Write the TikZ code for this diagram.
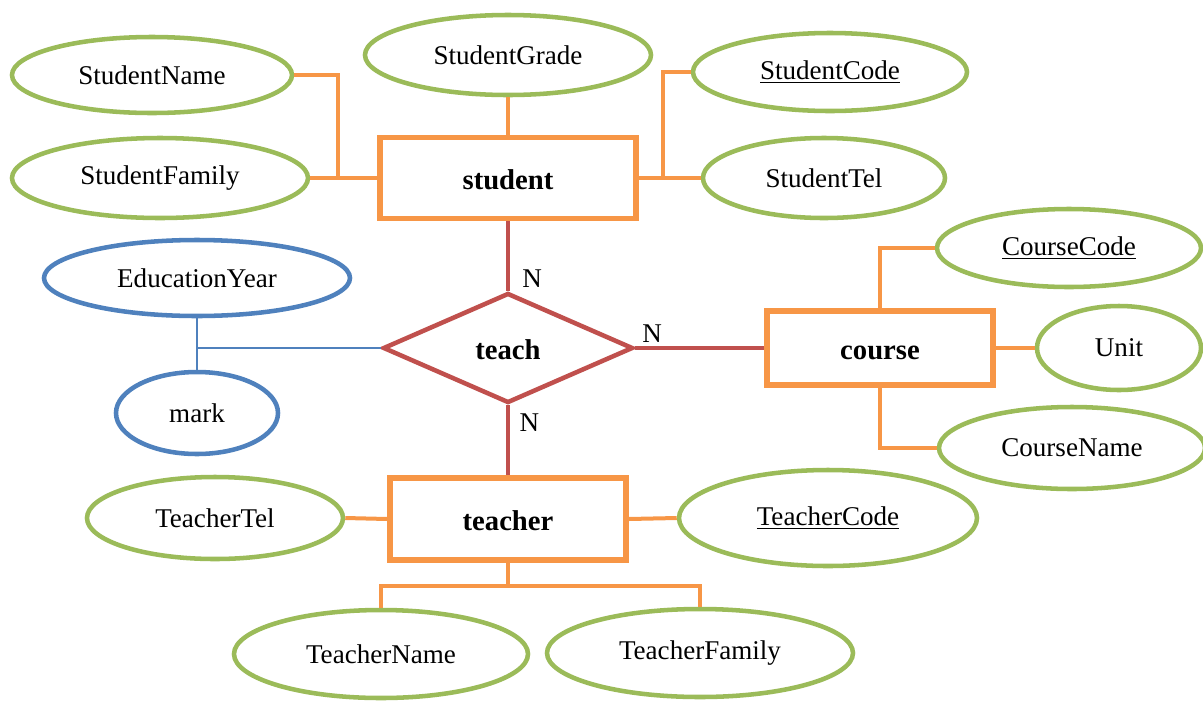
\documentclass[tikz,border=0pt]{standalone}
\usepackage{fontspec}
\setmainfont{Liberation Serif}
\usetikzlibrary{shapes.geometric}
\tikzset{attr/.style 2 args={ellipse,draw=ergreen,line width=3.4pt,inner sep=0pt,minimum width=#1*0.75pt,minimum height=#2*0.75pt,font=\fontsize{20.3}{24}\selectfont},
 battr/.style 2 args={attr={#1}{#2},draw=erblue},
 entity/.style={draw=erorange,line width=4pt,inner sep=0pt,text height=18pt,text depth=1pt,font=\bfseries\fontsize{21.5}{24}\selectfont},
 relship/.style={diamond,draw=erred,line width=3.4pt,inner sep=0pt,aspect=2.27,minimum width=187.5pt,minimum height=82.5pt,text height=18pt,text depth=1pt,font=\bfseries\fontsize{21.5}{24}\selectfont},
 conn/.style={draw=erorange,line width=3pt}, relconn/.style={draw=erred,line width=3.6pt},
 card/.style={font=\fontsize{20.3}{24}\selectfont,inner sep=1pt}}
\definecolor{ergreen}{RGB}{155,187,89}
\definecolor{erorange}{RGB}{247,150,70}
\definecolor{erred}{RGB}{192,80,77}
\definecolor{erblue}{RGB}{79,129,189}

\begin{document}
\begin{tikzpicture}[x=0.75pt,y=-0.75pt]
\useasboundingbox (0,0) rectangle (1203,701);
% entities and relationship
\node[entity,minimum width=192pt,minimum height=60.75pt] (student) at (508,178) {student};
\node[entity,minimum width=169.5pt,minimum height=55.5pt] (course) at (880,348) {course};
\node[entity,minimum width=177pt,minimum height=61.5pt] (teacher) at (508,519) {teacher};
\node[relship] (teach) at (508,348) {teach};
% attributes
\node[attr={280}{76}] (sname) at (152,75) {StudentName};
\node[attr={286}{80}] (sgrade) at (508,55) {StudentGrade};
\node[attr={274}{78}] (scode) at (830,72) {\underline{StudentCode}};
\node[attr={296}{80}] (sfamily) at (160,178) {StudentFamily};
\node[attr={242}{80}] (stel) at (824,178) {StudentTel};
\node[attr={264}{78}] (ccode) at (1069,248) {\underline{CourseCode}};
\node[attr={164}{84}] (unit) at (1119,348) {Unit};
\node[attr={266}{82}] (cname) at (1072,448) {CourseName};
\node[battr={306}{76}] (eyear) at (197,278) {EducationYear};
\node[battr={162}{82}] (mark) at (197,413) {mark};
\node[attr={256}{82}] (ttel) at (215,518) {TeacherTel};
\node[attr={298}{96}] (tcode) at (828,518) {\underline{TeacherCode}};
\node[attr={294}{88}] (tname) at (381,654) {TeacherName};
\node[attr={306}{88}] (tfamily) at (700,653) {TeacherFamily};
% connectors
\draw[conn] (sname.east) -- ++(44,0) |- (student.west);
\draw[conn] (sfamily.east) -- (student.west);
\draw[conn] (sgrade.south) -- (student.north);
\draw[conn] (scode.west) -- ++(-28,0) |- (student.east);
\draw[conn] (stel.west) -- (student.east);
\draw[conn] (course.north) |- (ccode.west);
\draw[conn] (course.east) -- (unit.west);
\draw[conn] (course.south) |- (cname.west);
\draw[conn] (ttel.east) -- (teacher.west);
\draw[conn] (teacher.east) -- (tcode.west);
\draw[conn] (teacher.south) -- ++(0,23) -| (tname.north);
\draw[conn] (teacher.south) -- ++(0,23) -| (tfamily.north);
\draw[relconn] (student.south) -- (teach.north) node[card,pos=0.83,right=8pt] (n1) {N};
\draw[relconn] (teach.east) -- (course.west) node[card,pos=0.13,above=1pt] (n2) {N};
\draw[relconn] (teach.south) -- (teacher.north) node[card,pos=0.25,right=6pt] (n3) {N};
\draw[draw=erblue,line width=1.8pt] (teach.west) -- (eyear.south |- teach.west);
\draw[draw=erblue,line width=1.8pt] (eyear.south) -- (mark.north);
\end{tikzpicture}
\end{document}
